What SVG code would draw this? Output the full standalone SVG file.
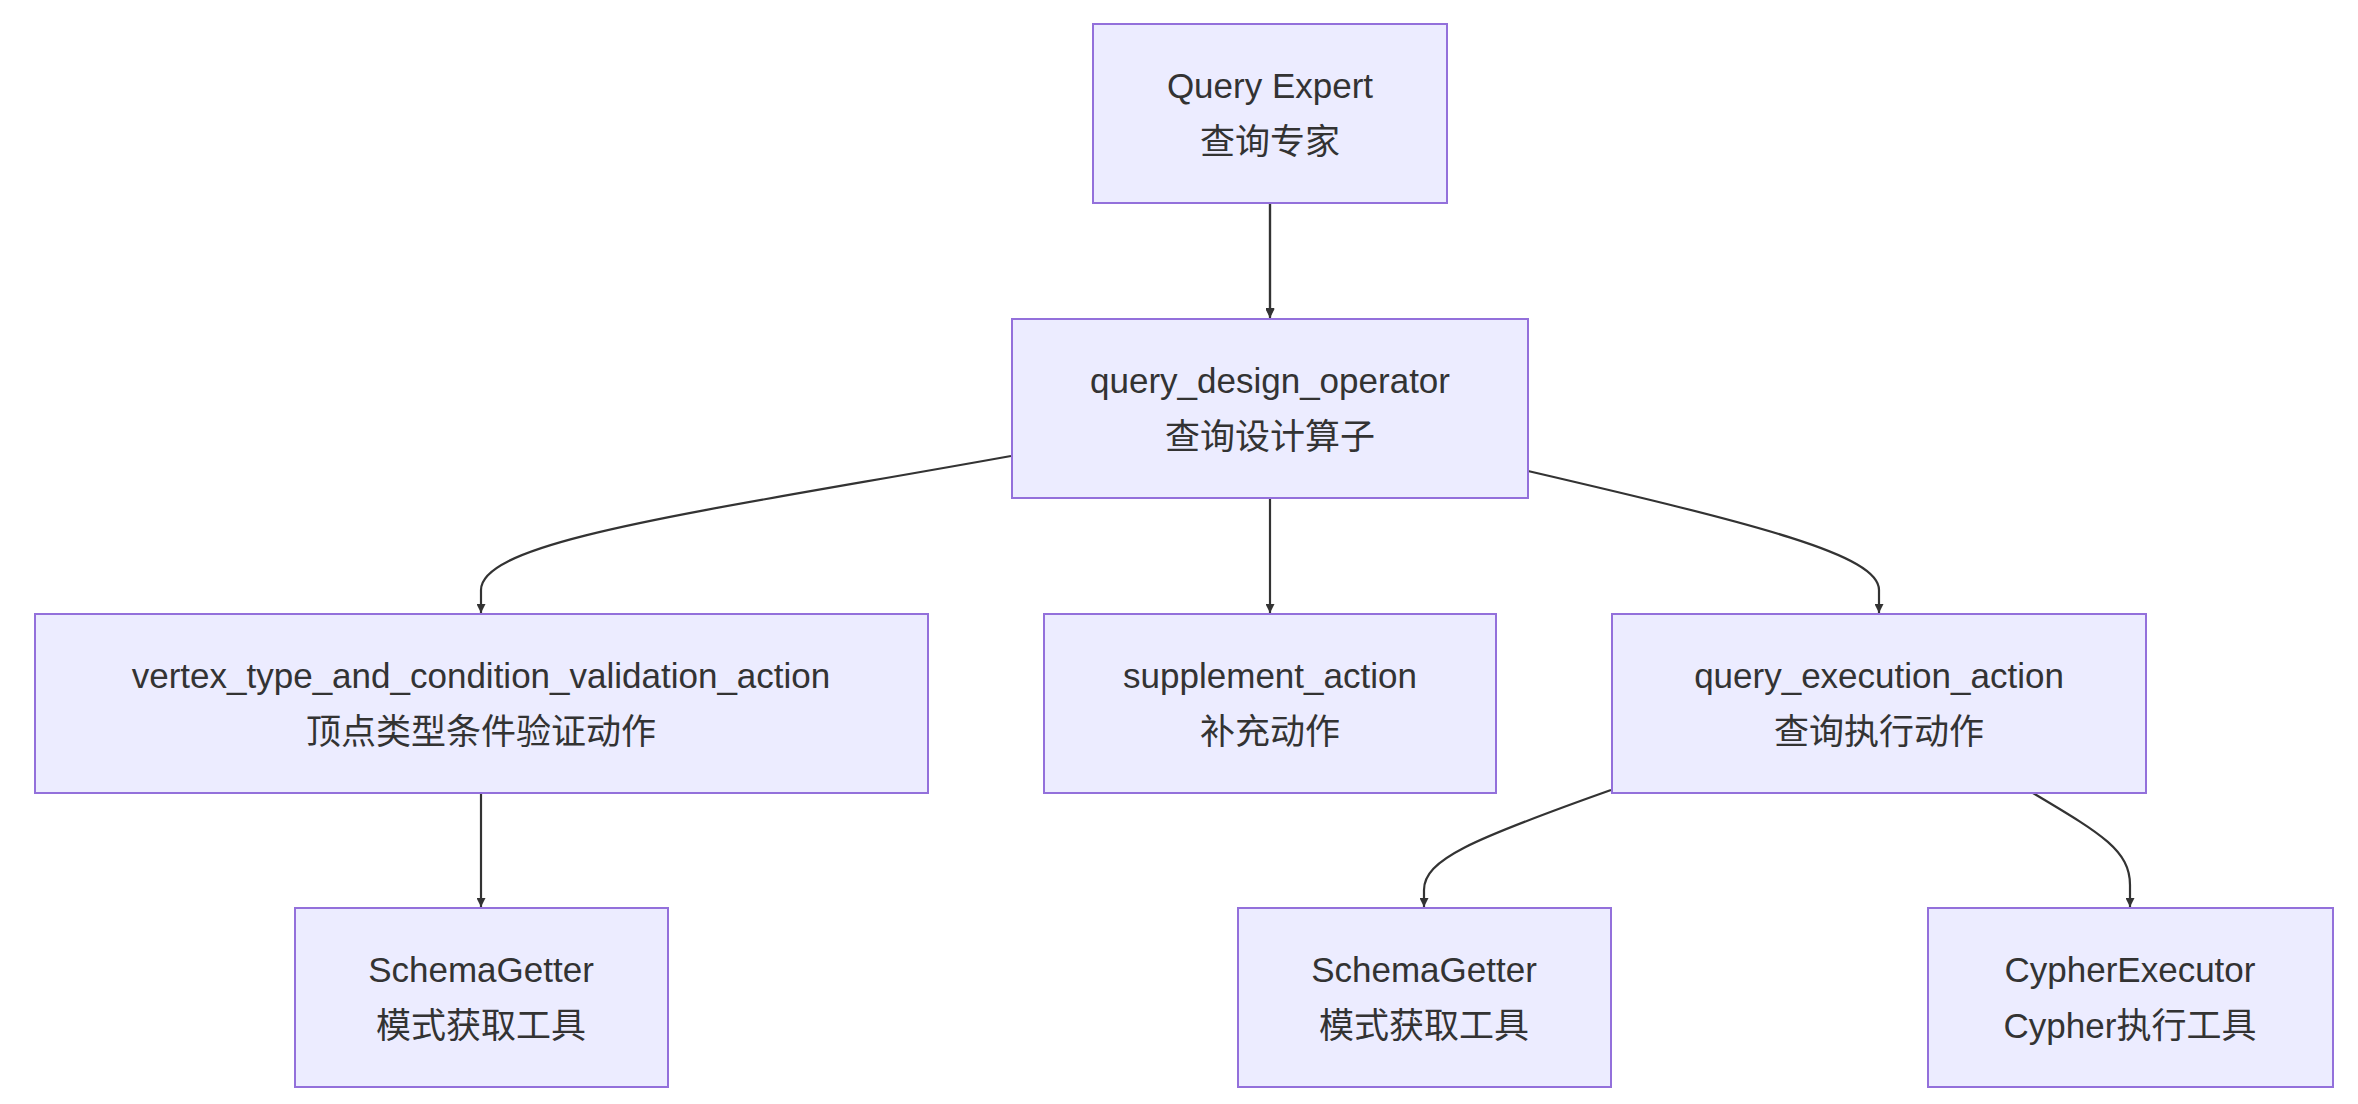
<svg xmlns="http://www.w3.org/2000/svg" width="2358" height="1104" viewBox="0 0 2358 1104">
<style>
.n rect{fill:#ECECFF;stroke:#9370DB;stroke-width:2}
.n text{font-family:"Liberation Sans","Noto Sans CJK SC",sans-serif;font-size:35px;fill:#333;text-anchor:middle}
.e path{fill:none;stroke:#333;stroke-width:2.2}
</style>
<defs><marker id="a" viewBox="0 0 10 10" refX="10" refY="5" markerWidth="9" markerHeight="9" markerUnits="userSpaceOnUse" orient="auto"><path d="M0,0L10,5L0,10z" fill="#333"/></marker></defs>
<rect width="2358" height="1104" fill="#fff"/>
<g class="e">
<path d="M1270,203V317" marker-end="url(#a)" transform="scale(1)"/>
<path d="M1270,203L1270,318" marker-end="url(#a)"/>
<path d="M1011,456C700,512 481,540 481,590L481,613" marker-end="url(#a)"/>
<path d="M1270,498L1270,613" marker-end="url(#a)"/>
<path d="M1528,471C1760,525 1879,555 1879,590L1879,613" marker-end="url(#a)"/>
<path d="M481,793L481,907" marker-end="url(#a)"/>
<path d="M1611,790C1470,840 1424,860 1424,890L1424,907" marker-end="url(#a)"/>
<path d="M2033,793C2100,833 2130,850 2130,885L2130,907" marker-end="url(#a)"/>
</g>
<g id="qe" class="n"><rect x="1093" y="24" width="354" height="179"/><text x="1270" y="98">Query Expert</text><text x="1270" y="154">查询专家</text></g>
<g id="qdo" class="n"><rect x="1012" y="319" width="516" height="179"/><text x="1270" y="393">query_design_operator</text><text x="1270" y="449">查询设计算子</text></g>
<g id="vt" class="n"><rect x="35" y="614" width="893" height="179"/><text x="481" y="688">vertex_type_and_condition_validation_action</text><text x="481" y="744">顶点类型条件验证动作</text></g>
<g id="sa" class="n"><rect x="1044" y="614" width="452" height="179"/><text x="1270" y="688">supplement_action</text><text x="1270" y="744">补充动作</text></g>
<g id="qea" class="n"><rect x="1612" y="614" width="534" height="179"/><text x="1879" y="688">query_execution_action</text><text x="1879" y="744">查询执行动作</text></g>
<g id="sg1" class="n"><rect x="295" y="908" width="373" height="179"/><text x="481" y="982">SchemaGetter</text><text x="481" y="1038">模式获取工具</text></g>
<g id="sg2" class="n"><rect x="1238" y="908" width="373" height="179"/><text x="1424" y="982">SchemaGetter</text><text x="1424" y="1038">模式获取工具</text></g>
<g id="ce" class="n"><rect x="1928" y="908" width="405" height="179"/><text x="2130" y="982">CypherExecutor</text><text x="2130" y="1038">Cypher执行工具</text></g>
</svg>
